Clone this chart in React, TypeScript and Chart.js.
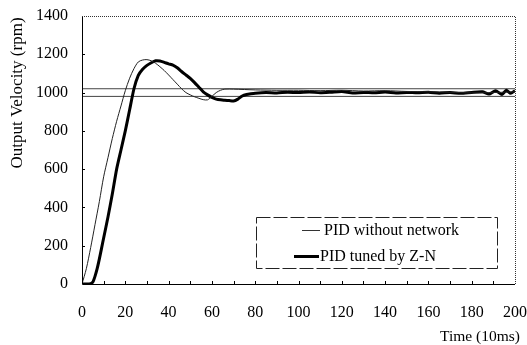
import React, { useEffect, useRef } from "react";
import { Chart, registerables } from "chart.js";

Chart.register(...registerables);

// PID without network (thin)
const thinTime = [0, 2, 4, 6, 8, 10, 12, 14, 16, 18, 20, 22, 24, 26, 28, 30, 32, 34, 36, 38, 40, 42, 44, 46, 48, 50, 52, 54, 56, 58, 60, 62, 64, 66, 70, 80, 90, 100, 110, 120, 130, 140, 150, 160, 170, 180, 190, 200];
const thinValues = [0, 80, 190, 310, 430, 560, 660, 760, 850, 930, 1010, 1075, 1125, 1160, 1170, 1172, 1166, 1153, 1135, 1115, 1092, 1068, 1044, 1020, 1000, 988, 978, 970, 963, 962, 980, 1000, 1012, 1018, 1018, 1014, 1012, 1012, 1010, 1012, 1008, 1010, 1006, 1004, 1002, 998, 1000, 1004];

// PID tuned by Z-N (thick)
const thickTime = [0, 2, 4, 5, 6, 7, 8, 9, 10, 12, 14, 16, 18, 20, 22, 24, 26, 28, 30, 32, 34, 36, 38, 40, 42, 44, 46, 48, 50, 52, 54, 56, 58, 60, 62, 64, 66, 68, 70, 72, 74, 76, 78, 80, 85, 90, 95, 100, 105, 110, 115, 120, 125, 130, 135, 140, 145, 150, 155, 160, 165, 170, 175, 180, 185, 188, 191, 194, 196, 198, 200];
const thickValues = [0, 0, 2, 10, 40, 80, 130, 185, 240, 350, 470, 600, 700, 800, 910, 1020, 1090, 1122, 1142, 1156, 1166, 1165, 1158, 1150, 1144, 1130, 1110, 1092, 1074, 1052, 1028, 1004, 988, 975, 966, 962, 960, 958, 956, 966, 982, 990, 994, 997, 1000, 998, 1002, 1000, 1003, 999, 1002, 1006, 998, 1001, 999, 1003, 998, 1001, 999, 1002, 997, 1000, 996, 1001, 1004, 992, 1010, 990, 1012, 996, 1010];

// tolerance band
const bandTime = [0, 200];
const bandUpper = [1020, 1020];
const bandLower = [980, 980];

const yTicks = [0, 200, 400, 600, 800, 1000, 1200, 1400];
const xTicks = [0, 20, 40, 60, 80, 100, 120, 140, 160, 180, 200];

const seriesLabels = ["PID without network", "PID tuned by Z-N"];
const xTitle = "Time (10ms)";
const yTitle = "Output Velocity (rpm)";

const FONT = "'Liberation Serif', 'Times New Roman', serif";

const toPts = (xs: number[], ys: number[]) => xs.map((x, i) => ({ x, y: ys[i] }));

const zeroPad = (axis: any) => {
  axis.paddingLeft = 0;
  axis.paddingRight = 0;
  axis.paddingTop = 0;
  axis.paddingBottom = 0;
};

const decorPlugin = {
  id: "decor",
  afterDatasetsDraw(chart: any) {
    const { ctx, chartArea, scales } = chart;
    const { left, right, top, bottom } = chartArea;
    const xs = scales.x;
    const ys = scales.y;
    ctx.save();
    ctx.strokeStyle = "#000";
    ctx.lineWidth = 1;
    ctx.setLineDash([]);
    ctx.beginPath();
    ctx.moveTo(left + 0.5, top);
    ctx.lineTo(left + 0.5, bottom + 0.5);
    ctx.lineTo(right, bottom + 0.5);
    ctx.stroke();
    ctx.strokeStyle = "#333";
    ctx.setLineDash([1, 1]);
    ctx.beginPath();
    ctx.moveTo(left, top + 0.5);
    ctx.lineTo(right + 0.5, top + 0.5);
    ctx.lineTo(right + 0.5, bottom);
    ctx.stroke();
    ctx.setLineDash([]);
    ctx.strokeStyle = "#000";
    ctx.beginPath();
    for (let v = 10; v < 200; v += 10) {
      const px = Math.round(xs.getPixelForValue(v)) + 0.5;
      ctx.moveTo(px, bottom);
      ctx.lineTo(px, bottom - 3);
    }
    for (const v of yTicks) {
      if (v === 0 || v === 1400) continue;
      const py = Math.round(ys.getPixelForValue(v)) + 0.5;
      ctx.moveTo(left, py);
      ctx.lineTo(left + 3, py);
    }
    ctx.stroke();

    // legend
    const bx = 256, by = 217, bw = 241, bh = 51;
    ctx.strokeStyle = "#222";
    ctx.lineWidth = 1;
    ctx.setLineDash([14, 3]);
    ctx.strokeRect(bx + 0.5, by + 0.5, bw, bh);
    ctx.setLineDash([]);
    ctx.fillStyle = "#000";
    ctx.font = `16px ${FONT}`;
    ctx.textBaseline = "middle";
    ctx.textAlign = "left";
    const ds = chart.data.datasets;
    ctx.strokeStyle = "#333";
    ctx.lineWidth = 1;
    ctx.beginPath();
    ctx.moveTo(302, 230.5);
    ctx.lineTo(320, 230.5);
    ctx.stroke();
    ctx.fillText(ds[0].label, 324, 231);
    ctx.strokeStyle = "#000";
    ctx.lineWidth = 3;
    ctx.beginPath();
    ctx.moveTo(294, 256.5);
    ctx.lineTo(319, 256.5);
    ctx.stroke();
    ctx.fillText(ds[1].label, 320, 257);

    // axis titles
    ctx.font = `17px ${FONT}`;
    ctx.textAlign = "center";
    ctx.save();
    ctx.translate(18, 93);
    ctx.rotate(-Math.PI / 2);
    ctx.fillText(yTitle, 0, 0);
    ctx.restore();
    ctx.textAlign = "right";
    ctx.font = `15.5px ${FONT}`;
    ctx.fillText(xTitle, 520, 337);
    ctx.restore();
  },
};

export default function App() {
  const ref = useRef<HTMLCanvasElement | null>(null);
  useEffect(() => {
    if (!ref.current) return;
    const chart = new Chart(ref.current, {
      type: "line",
      data: {
        datasets: [
          {
            label: seriesLabels[0],
            data: toPts(thinTime, thinValues),
            borderColor: "#222",
            borderWidth: 1,
            pointRadius: 0,
            tension: 0.3,
          },
          {
            label: seriesLabels[1],
            data: toPts(thickTime, thickValues),
            borderColor: "#000",
            borderWidth: 3,
            pointRadius: 0,
            tension: 0.2,
          },
          {
            label: "upper",
            data: toPts(bandTime, bandUpper),
            borderColor: "#444",
            borderWidth: 1,
            pointRadius: 0,
          },
          {
            label: "lower",
            data: toPts(bandTime, bandLower),
            borderColor: "#444",
            borderWidth: 1,
            pointRadius: 0,
          },
        ],
      },
      options: {
        animation: false,
        responsive: false,
        layout: { padding: { top: 16, right: 12, left: 0, bottom: 0 } },
        plugins: { legend: { display: false }, tooltip: { enabled: false } },
        scales: {
          x: {
            type: "linear",
            min: 0,
            max: 200,
            afterBuildTicks: (axis: any) => {
              axis.ticks = xTicks.map((v) => ({ value: v }));
            },
            afterFit: (axis: any) => {
              axis.height = 61;
              zeroPad(axis);
            },
            grid: { display: false, drawTicks: false },
            border: { display: false },
            ticks: {
              padding: 19,
              color: "#000",
              font: { family: FONT, size: 16 },
              maxRotation: 0,
              callback: (v: any) => String(v),
            },
          },
          y: {
            min: 0,
            max: 1400,
            afterBuildTicks: (axis: any) => {
              axis.ticks = yTicks.map((v) => ({ value: v }));
            },
            afterFit: (axis: any) => {
              axis.width = 82;
              zeroPad(axis);
            },
            grid: { display: false, drawTicks: false },
            border: { display: false },
            ticks: {
              padding: 14,
              color: "#000",
              font: { family: FONT, size: 16 },
              callback: (v: any) => String(v),
            },
          },
        },
      },
      plugins: [decorPlugin],
    });
    return () => chart.destroy();
  }, []);
  return (
    <div style={{ position: "absolute", left: 0, top: 0, width: 527, height: 345, background: "#fff" }}>
      <canvas ref={ref} width={527} height={345} />
    </div>
  );
}
